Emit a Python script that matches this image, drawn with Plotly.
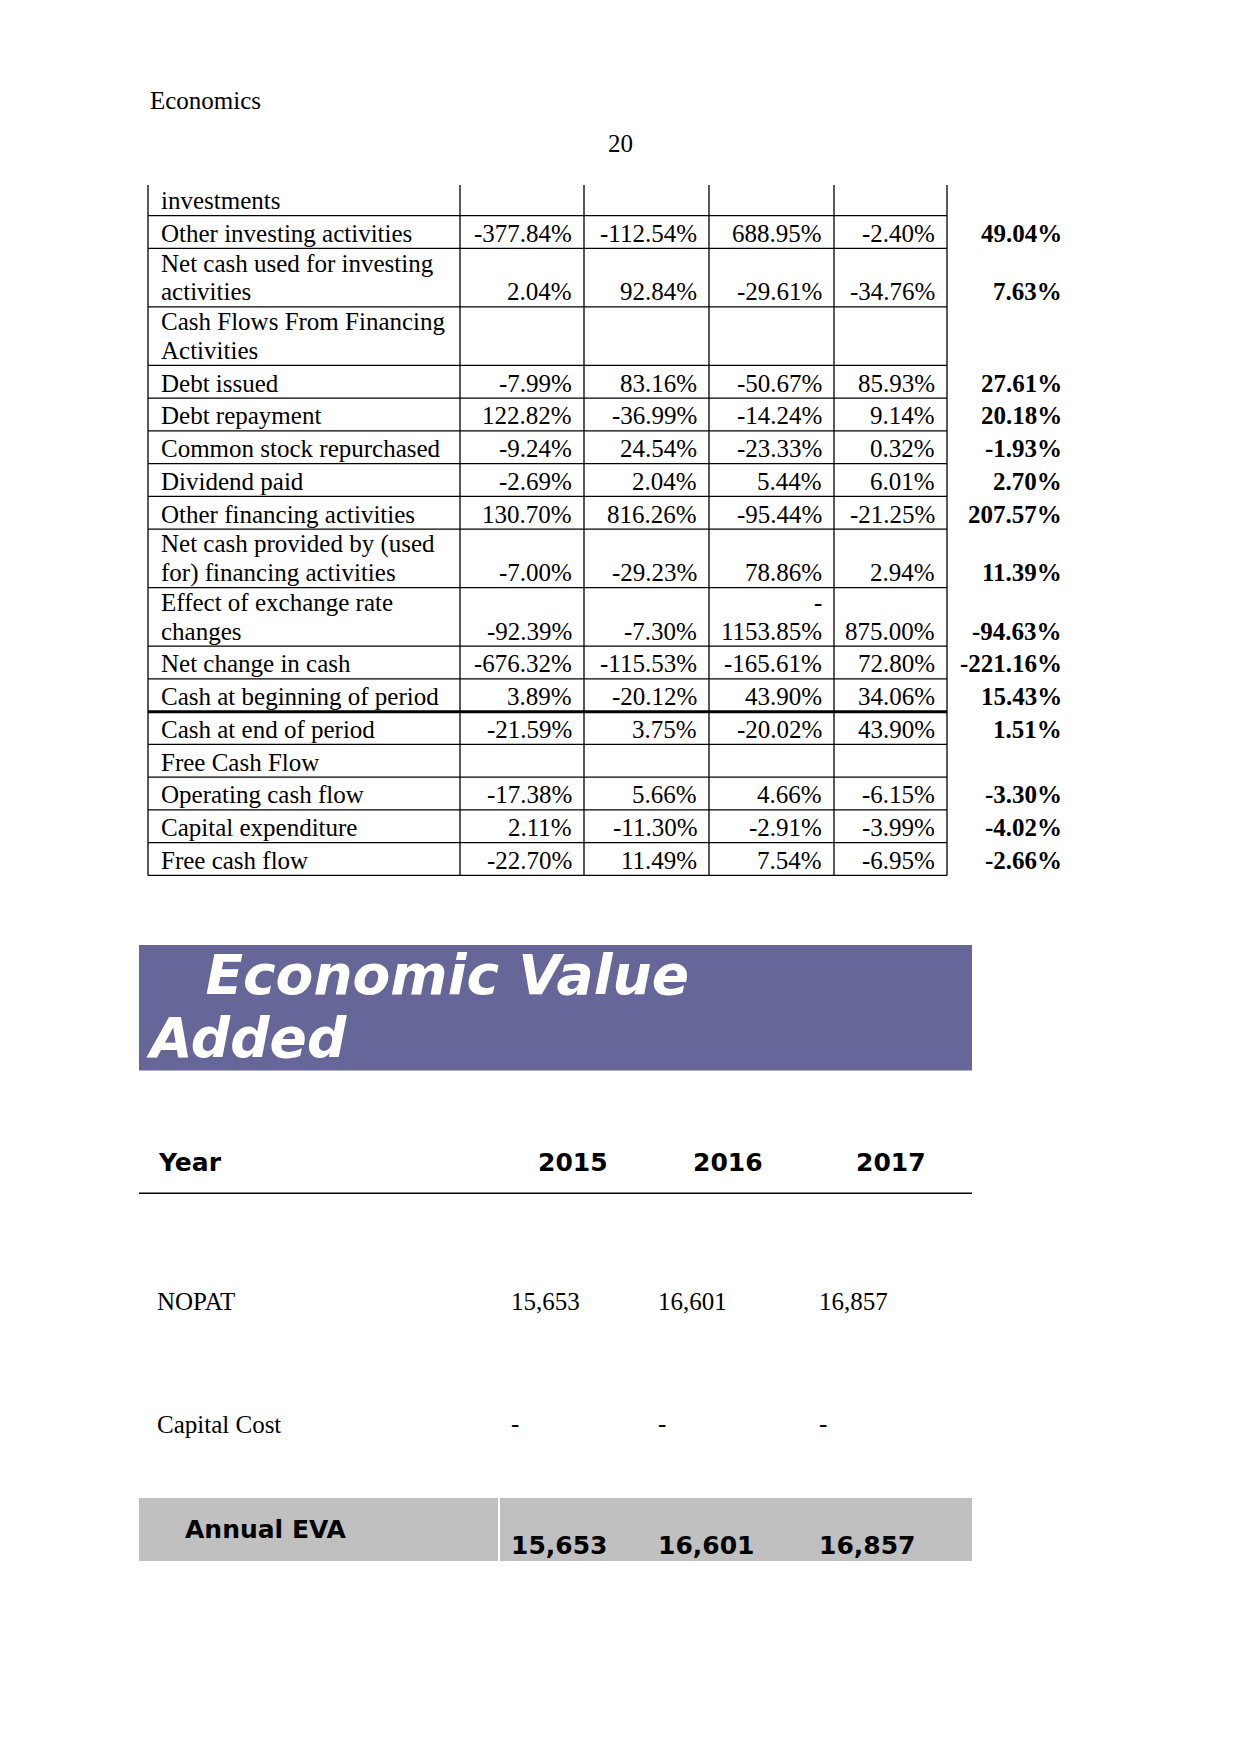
import plotly.graph_objects as go

W, H = 1241, 1754
OFF = 8  # browser body margin around the plot div

# ------------------------------------------------------------------ data
row_labels = [
    ["investments"],
    ["Other investing activities"],
    ["Net cash used for investing", "activities"],
    ["Cash Flows From Financing", "Activities"],
    ["Debt issued"],
    ["Debt repayment"],
    ["Common stock repurchased"],
    ["Dividend paid"],
    ["Other financing activities"],
    ["Net cash provided by (used", "for) financing activities"],
    ["Effect of exchange rate", "changes"],
    ["Net change in cash"],
    ["Cash at beginning of period"],
    ["Cash at end of period"],
    ["Free Cash Flow"],
    ["Operating cash flow"],
    ["Capital expenditure"],
    ["Free cash flow"],
]
period_1 = [None, -377.84, 2.04, None, -7.99, 122.82, -9.24, -2.69, 130.70, -7.00,
            -92.39, -676.32, 3.89, -21.59, None, -17.38, 2.11, -22.70]
period_2 = [None, -112.54, 92.84, None, 83.16, -36.99, 24.54, 2.04, 816.26, -29.23,
            -7.30, -115.53, -20.12, 3.75, None, 5.66, -11.30, 11.49]
period_3 = [None, 688.95, -29.61, None, -50.67, -14.24, -23.33, 5.44, -95.44, 78.86,
            -1153.85, -165.61, 43.90, -20.02, None, 4.66, -2.91, 7.54]
period_4 = [None, -2.40, -34.76, None, 85.93, 9.14, 0.32, 6.01, -21.25, 2.94,
            875.00, 72.80, 34.06, 43.90, None, -6.15, -3.99, -6.95]
average = [None, 49.04, 7.63, None, 27.61, 20.18, -1.93, 2.70, 207.57, 11.39,
           -94.63, -221.16, 15.43, 1.51, None, -3.30, -4.02, -2.66]

eva_title = ["   Economic Value", "Added"]
eva_years = ["2015", "2016", "2017"]
nopat = [15653, 16601, 16857]
capital_cost = ["-", "-", "-"]
annual_eva = [15653, 16601, 16857]

# ------------------------------------------------------------------ styles
SERIF = "Liberation Serif"
SANS = "DejaVu Sans"
FS = 25
PURPLE = "#666699"
GREY = "#C0C0C0"

fig = go.Figure()
fig.add_trace(go.Scatter(x=[OFF, W], y=[OFF, H], mode="markers",
                         marker=dict(opacity=0), hoverinfo="skip", showlegend=False))

ann = []
shapes = []


def text(x, y, s, xanchor="left", family=SERIF, size=FS, color="black", bold=False):
    ann.append(dict(x=x, y=y, xref="x", yref="y", text=s, showarrow=False,
                    xanchor=xanchor, yanchor="middle",
                    font=dict(family=family, size=size, color=color,
                              weight="bold" if bold else "normal"),
                    borderpad=0))


def hline(x0, x1, y, w=1.3, color="black"):
    shapes.append(dict(type="line", xref="x", yref="y", x0=x0, x1=x1, y0=y, y1=y,
                       line=dict(color=color, width=w)))


def vline(x, y0, y1, w=1.3, color="black"):
    shapes.append(dict(type="line", xref="x", yref="y", x0=x, x1=x, y0=y0, y1=y1,
                       line=dict(color=color, width=w)))


def rect(x0, x1, y0, y1, fill):
    shapes.append(dict(type="rect", xref="x", yref="y", x0=x0, x1=x1, y0=y0, y1=y1,
                       fillcolor=fill, line=dict(width=0), layer="below"))


# ------------------------------------------------------------------ page header
text(149, 100.5, "Economics")
text(620, 143, "20", xanchor="center")

# ------------------------------------------------------------------ cash-flow table
col_x = [148, 460, 584, 709, 834, 947]
avg_right = 1063
label_x = 160
pad = 11
table_top = 185
first_bottom = 215.7
single_h, extra_h = 32.75, 25.75     # row height, extra height per wrapped line
first_line_off = 17.6                # centre of last line above row bottom offset
text_gap = 28.5                      # distance between wrapped text lines

cols = [period_1, period_2, period_3, period_4]

tops = []
y = first_bottom
for i, lab in enumerate(row_labels):
    if i == 0:
        tops.append(None)
        continue
    tops.append(y)
    y += single_h + extra_h * (len(lab) - 1)
table_bottom = y

# grid
for cx in col_x:
    vline(cx, table_top, table_bottom)
hline(col_x[0], col_x[-1], first_bottom)
for i, lab in enumerate(row_labels):
    if i == 0:
        continue
    yb = tops[i] + single_h + extra_h * (len(lab) - 1)
    thick = lab[0] == "Cash at beginning of period"
    hline(col_x[0], col_x[-1], yb, w=3 if thick else 1.3)

# texts
for i, lab in enumerate(row_labels):
    n = len(lab)
    if i == 0:
        centers = [first_bottom - 15]
    else:
        last = tops[i] + first_line_off + extra_h * (n - 1)
        centers = [last - text_gap * (n - 1 - k) for k in range(n)]
    for k, s in enumerate(lab):
        text(label_x, centers[k], s)
    for c, series in enumerate(cols):
        v = series[i]
        if v is None:
            continue
        s = f"{v:.2f}%"
        parts = ["-", s[1:]] if len(s) > 8 else [s]
        for j, p in enumerate(parts):
            li = n - len(parts) + j
            text(col_x[c + 2] - pad, centers[li], p, xanchor="right")
    v = average[i]
    if v is not None:
        text(avg_right, centers[-1], f"{v:.2f}%", xanchor="right", bold=True)

# ------------------------------------------------------------------ EVA section
box_x0, box_x1 = 139, 972
rect(box_x0, box_x1, 945, 1070.5, PURPLE)
title_x = [147, 145]
title_y = [975, 1038]
for k, s in enumerate(eva_title):
    ann.append(dict(x=title_x[k], y=title_y[k], xref="x", yref="y",
                    text="<b><i>" + s.replace(" ", "&nbsp;") + "</i></b>",
                    showarrow=False, xanchor="left", yanchor="middle", borderpad=0,
                    font=dict(family=SANS, size=55, color="white")))

year_x = [537, 692, 855]
val_x = [510, 657, 818]

text(157, 1162.5, "Year", family=SANS, bold=True)
for k, yr in enumerate(eva_years):
    text(year_x[k], 1162.5, yr, family=SANS, bold=True)
hline(box_x0, box_x1, 1193.3, w=1.5)

text(156, 1301.5, "NOPAT")
for k, v in enumerate(nopat):
    text(val_x[k], 1301.5, f"{v:,}")

text(156, 1424, "Capital Cost")
for k, v in enumerate(capital_cost):
    text(val_x[k], 1423, v)

rect(box_x0, box_x1, 1498, 1561, GREY)
shapes.append(dict(type="line", xref="x", yref="y", x0=499, x1=499, y0=1498, y1=1561,
                   line=dict(color="white", width=2)))
text(184, 1529, "Annual EVA", family=SANS, bold=True)
for k, v in enumerate(annual_eva):
    text(val_x[k], 1545, f"{v:,}", family=SANS, bold=True)

fig.update_layout(
    width=W, height=H,
    margin=dict(l=0, r=0, t=0, b=0),
    paper_bgcolor="white", plot_bgcolor="white",
    xaxis=dict(range=[OFF, W + OFF], visible=False, fixedrange=True),
    yaxis=dict(range=[H + OFF, OFF], visible=False, fixedrange=True),
    annotations=ann, shapes=shapes, showlegend=False,
)

fig.write_html("out.html")
